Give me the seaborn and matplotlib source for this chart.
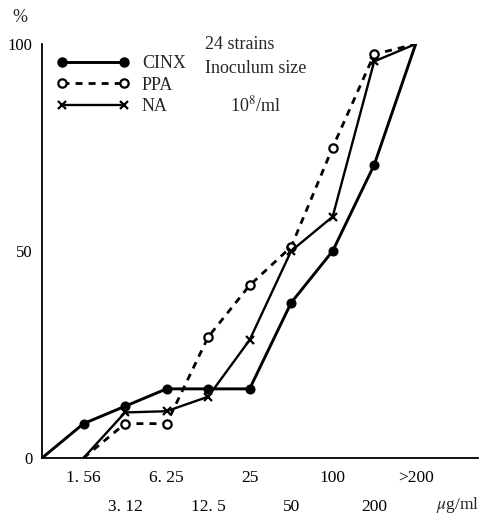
import numpy as np
import matplotlib
matplotlib.use("Agg")
import matplotlib.pyplot as plt
from matplotlib.lines import Line2D
import seaborn as sns

# concentrations (ug/ml), drawn as evenly spaced categories
conc_labels = ["1. 56", "3. 12", "6. 25", "12. 5", "25", "50", "100", "200", ">200"]

# cumulative % of 24 strains inhibited
cinx = [0, 8.3, 12.5, 16.7, 16.7, 16.7, 37.5, 50.0, 70.8, 100]   # first value = origin
ppa = [0, 8.3, 8.3, 29.2, 41.7, 51.0, 75.0, 97.5, 100]
na = [0, 11.0, 11.3, 14.8, 28.5, 50.0, 58.3, 95.8, 100]

sns.set_style("white")
plt.rcParams["font.family"] = ["Liberation Serif", "DejaVu Serif"]
plt.rcParams["mathtext.fontset"] = "stix"

fig = plt.figure(figsize=(4.85, 5.16), dpi=100)
ax = fig.add_axes([42 / 485, 58 / 516, 436 / 485, 414 / 516])

pos = np.arange(len(conc_labels))
cinx_x = np.concatenate([[-1], pos])

sns.lineplot(x=cinx_x, y=cinx, ax=ax, color="black", lw=2.1,
             marker="o", markersize=6.5, markevery=list(range(1, 9)),
             markeredgecolor="black", markerfacecolor="black")
sns.lineplot(x=pos, y=ppa, ax=ax, color="black", lw=2.0,
             linestyle=(0, (2.5, 2.2)),
             marker="o", markersize=6, markevery=list(range(1, 8)),
             markerfacecolor="white", markeredgecolor="black", markeredgewidth=1.6)
sns.lineplot(x=pos, y=na, ax=ax, color="black", lw=1.7,
             marker="x", markersize=6, markevery=list(range(1, 8)),
             markeredgecolor="black", markeredgewidth=1.6)

ax.set_xlim(-1, 9.5)
ax.set_ylim(0, 100)
sns.despine(ax=ax)
for s in ["left", "bottom"]:
    ax.spines[s].set_linewidth(1.3)
    ax.spines[s].set_color("black")

# two-row x labels: even positions on top row, odd positions below
ax.set_xticks(pos[::2])
ax.set_xticklabels(conc_labels[::2])
ax.set_xticks(pos[1::2], minor=True)
ax.set_xticklabels(conc_labels[1::2], minor=True)
ax.tick_params(axis="x", which="both", direction="in", length=3, width=1,
               labelsize=12.5, colors="black")
ax.tick_params(axis="x", which="major", pad=9)
ax.tick_params(axis="x", which="minor", pad=29.5)

ax.set_yticks([0, 50, 100])
ax.set_yticks(np.arange(10, 100, 10), minor=True)
ax.tick_params(axis="y", which="both", direction="out", length=3, width=1,
               labelsize=12, colors="black", pad=4)
ax.set_xlabel("")
ax.set_ylabel("")

fig.text(20 / 485, 1 - 17 / 516, "%", fontsize=13, ha="center", va="center")
fig.text(458 / 485, 1 - 505 / 516, r"$\mu$g/ml", fontsize=12.5, ha="center", va="center")

ax.text(2.93, 100.0, "24 strains", fontsize=13, ha="left", va="center")
ax.text(2.93, 94.0, "Inoculum size", fontsize=13, ha="left", va="center")
ax.text(3.53, 85.2, r"10$^{8}$/ml", fontsize=13, ha="left", va="center")

handles = [
    Line2D([], [], color="black", lw=2.1, marker="o", markersize=6.5),
    Line2D([], [], color="black", lw=2.0, linestyle=(0, (2.5, 2.2)), marker="o",
           markersize=6, markerfacecolor="white", markeredgewidth=1.6),
    Line2D([], [], color="black", lw=1.7, marker="x", markersize=6, markeredgewidth=1.6),
]
ax.legend(handles, ["CINX", "PPA", "NA"], loc="upper left",
          bbox_to_anchor=(-0.003, 1.012), frameon=False, numpoints=2,
          handlelength=4.0, handletextpad=0.7, labelspacing=0.25, fontsize=13)

fig.savefig("out.png", dpi=100)
